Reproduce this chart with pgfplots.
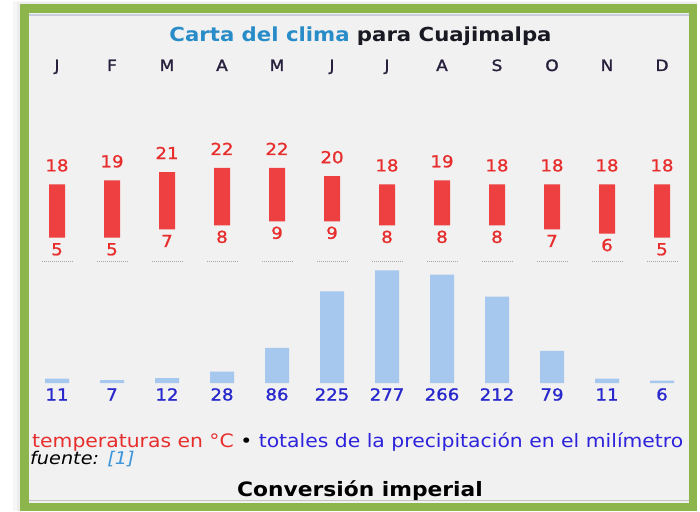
\documentclass[border=0pt]{standalone}
\usepackage{pgfplots}
\pgfplotsset{compat=1.18}
\usepackage{pgfplotstable}
\usepackage{fontspec}
\setmainfont[FakeStretch=1.1]{DejaVu Sans}
\newfontfamily\numfont[FakeStretch=1.1, FakeBold=1.2]{DejaVu Sans}
\newfontfamily\monthfont[FakeStretch=1.1, FakeBold=1.6]{DejaVu Sans}

\definecolor{framegreen}{RGB}{140,182,75}
\definecolor{innerbg}{RGB}{241,241,241}
\definecolor{tempred}{RGB}{238,64,64}
\definecolor{tempredtext}{RGB}{232,45,45}
\definecolor{rainblue}{RGB}{166,200,238}
\definecolor{rainbluetext}{RGB}{40,40,205}
\definecolor{legblue}{RGB}{45,35,220}
\definecolor{titleblue}{RGB}{40,140,200}
\definecolor{titledark}{RGB}{25,25,35}
\definecolor{refblue}{RGB}{60,150,220}
\definecolor{textdark}{RGB}{40,32,60}

\pgfplotstableread{
m lo hi p
0 5 18 11
1 5 19 7
2 7 21 12
3 8 22 28
4 9 22 86
5 9 20 225
6 8 18 277
7 8 19 266
8 8 18 212
9 7 18 79
10 6 18 11
11 5 18 6
}\climate

\pgfplotsset{
  chartbase/.style={scale only axis, width=660pt, xmin=-0.5, xmax=11.5,
    clip=false, axis line style={draw=none}, major tick length=0pt,
    ytick=\empty, xtick=\empty, anchor=south west,
    /pgf/number format/assume math mode=true},
}

\begin{document}
\begin{tikzpicture}
\path[use as bounding box] (0pt,0pt) rectangle (700pt,511pt);
\fill[white] (0pt,0pt) rectangle (700pt,511pt);
\fill[black, opacity=0.035] (13pt,0pt) rectangle (697pt,510pt);
\fill[black, opacity=0.035] (16.5pt,0pt) rectangle (697pt,509pt);
\fill[framegreen] (20pt,0pt) rectangle (697pt,507pt);
\fill[innerbg] (28.5pt,8pt) rectangle (689pt,498pt);
\draw[color={rgb,255:red,200;green,205;blue,218}, line width=1.2pt] (28.5pt,496pt) -- (689pt,496pt);
\draw[color={rgb,255:red,195;green,195;blue,195}, line width=1.2pt] (28.5pt,10.5pt) -- (689pt,10.5pt);

% title
\node[anchor=base, inner sep=0pt, font=\bfseries\fontsize{19.3}{20}\selectfont]
  at (360.5pt,469pt) {\color{titleblue}Carta del clima \color{titledark}para Cuajimalpa};

% temperature bars
\begin{axis}[chartbase, at={(29.5pt,244.6pt)}, height=195.4pt, ymin=-2, ymax=45.66,
  ybar stacked, bar width=16pt]
\addplot[fill=none, draw=none] table[x=m, y=lo]{\climate};
\addplot[fill=tempred, draw=none] table[x=m, y expr=\thisrow{hi}-\thisrow{lo}]{\climate};
\end{axis}

% temperature labels, months, baseline
\begin{axis}[chartbase, at={(29.5pt,244.6pt)}, height=195.4pt, ymin=-2, ymax=45.66,
  xtick={0,...,11}, xticklabels={J,F,M,A,M,J,J,A,S,O,N,D},
  xticklabel pos=upper,
  xticklabel style={anchor=base, inner sep=0pt, font=\monthfont\fontsize{15.5}{15.5}\selectfont, text=textdark}]
\addplot[only marks, mark=-, mark size=15.5pt,
  mark options={draw=black!35, line width=0.7pt, dash pattern=on 0.9pt off 1.1pt}]
  coordinates {(0,-0.8) (1,-0.8) (2,-0.8) (3,-0.8) (4,-0.8) (5,-0.8) (6,-0.8) (7,-0.8) (8,-0.8) (9,-0.8) (10,-0.8) (11,-0.8)};
\addplot[draw=none, mark=none, nodes near coords, point meta=y,
  every node near coord/.append style={anchor=base, yshift=13pt, inner sep=0pt,
    font=\numfont\fontsize{16.5}{16.5}\selectfont, text=tempredtext}]
  table[x=m, y=hi]{\climate};
\addplot[draw=none, mark=none, nodes near coords, point meta=y,
  every node near coord/.append style={anchor=base, yshift=-17.5pt, inner sep=0pt,
    font=\numfont\fontsize{16.5}{16.5}\selectfont, text=tempredtext}]
  table[x=m, y=lo]{\climate};
\end{axis}

% precipitation
\begin{axis}[chartbase, at={(29.5pt,128pt)}, height=122.1pt, ymin=0, ymax=300]
\addplot[ybar, bar width=24pt, fill=rainblue, draw=none] table[x=m, y=p]{\climate};
\addplot[draw=none, mark=none, nodes near coords, point meta=\thisrow{p},
  every node near coord/.append style={anchor=base, yshift=-17.5pt, inner sep=0pt,
    font=\numfont\fontsize{16.5}{16.5}\selectfont, text=rainbluetext}]
  table[x=m, y expr=0]{\climate};
\end{axis}

% legend & footer text
\node[anchor=base west, inner sep=0pt, font=\fontsize{18.5}{20}\selectfont]
  at (32pt,64pt) {\color{tempredtext}temperaturas en °C \color{black}• \color{legblue}totales de la precipitación en el milímetro};
\node[anchor=base west, inner sep=0pt, font=\itshape\fontsize{17.5}{20}\selectfont]
  at (30pt,46.7pt) {\color{black}fuente: \color{refblue}[1]};
\node[anchor=base, inner sep=0pt, font=\bfseries\fontsize{19.8}{20}\selectfont]
  at (360pt,14.5pt) {\color{black}Conversión imperial};
\end{tikzpicture}
\end{document}
